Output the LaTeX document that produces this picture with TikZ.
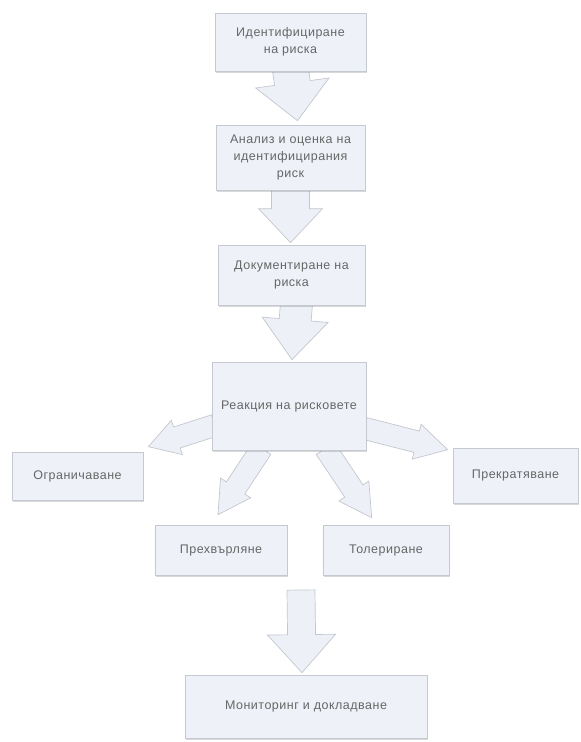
\documentclass[tikz,border=0pt]{standalone}
\usepackage{fontspec}
\setmainfont{Liberation Sans}[LetterSpace=4]
\usetikzlibrary{calc,shadows}
\definecolor{boxfill}{HTML}{EEF2F8}
\definecolor{boxline}{HTML}{C4C9D2}
\definecolor{arrfill}{HTML}{EDF0F6}
\definecolor{arrline}{HTML}{C3C7CF}
\definecolor{txt}{HTML}{666666}
\pgfdeclarelayer{background}
\pgfsetlayers{background,main}
\tikzset{
  box/.style={draw=boxline, fill=boxfill, line width=0.7pt,
    drop shadow={shadow xshift=1pt, shadow yshift=-2pt, opacity=.22, fill=black!70},
    text=txt, font=\fontsize{12.5}{17}\selectfont, align=center, inner sep=0pt},
  barrow/.style={draw=arrline, fill=arrfill, line width=0.7pt, line join=miter}
}
% #1 from, #2 to, #3 shaft half width, #4 head half width, #5 head length
\newcommand\blockarr[5]{%
  \coordinate (hb) at ($(#2)!#5!(#1)$);
  \path[barrow] ($(#1)!#3!90:(#2)$) -- ($(hb)!#3!90:(#2)$) -- ($(hb)!#4!90:(#2)$)
     -- (#2) -- ($(hb)!#4!-90:(#2)$) -- ($(hb)!#3!-90:(#2)$) -- ($(#1)!#3!-90:(#2)$) -- cycle;
}
\begin{document}
\begin{tikzpicture}[x=1pt,y=-1pt]
\useasboundingbox (0,0) rectangle (581,742);
\node[box, minimum width=151pt, minimum height=58pt] (n1) at (290.5,42) {Идентифициране\\на риска};
\node[box, minimum width=149pt, minimum height=65pt] (n2) at (290.5,157.5) {Анализ и оценка на\\идентифицирания\\риск};
\node[box, minimum width=147pt, minimum height=60pt] (n3) at (291.5,275) {Документиране на\\риска};
\node[box, minimum width=154pt, minimum height=88pt] (n4) at (289,406) {Реакция на рисковете};
\node[box, minimum width=131pt, minimum height=48pt] (n5) at (77.5,476) {Ограничаване};
\node[box, minimum width=125pt, minimum height=55pt] (n6) at (515.5,475.5) {Прекратяване};
\node[box, minimum width=132pt, minimum height=50pt] (n7) at (221,550) {Прехвърляне};
\node[box, minimum width=126pt, minimum height=50pt] (n8) at (386,550) {Толериране};
\node[box, minimum width=242pt, minimum height=63pt] (n9) at (306,706.5) {Мониторинг и докладване};
\coordinate (m0) at (301,590);
\begin{pgfonlayer}{background}
  \coordinate (s1) at ($(n1.south)+(0,-2)$);
  \coordinate (t1) at ($(n2.north)+(7,-4)$);
  \blockarr{s1}{t1}{18pt}{37pt}{38pt}
  \coordinate (s2) at ($(n2.south)+(0,-2)$);
  \coordinate (t2) at ($(n3.north)+(-1,-2)$);
  \blockarr{s2}{t2}{19pt}{32pt}{34pt}
  \coordinate (s3) at ($(n3.south)+(5,-2)$);
  \coordinate (t3) at ($(n4.north)+(3,-2)$);
  \blockarr{s3}{t3}{16pt}{33pt}{40pt}
  \coordinate (s4) at ($(n4.south west)+(3,-25)$);
  \coordinate (t4) at ($(n5.north east)+(5,-5)$);
  \blockarr{s4}{t4}{11pt}{18pt}{30pt}
  \coordinate (s5) at ($(n4.south east)+(-2,-22)$);
  \coordinate (t5) at ($(n6.north west)+(-5,2)$);
  \blockarr{s5}{t5}{11pt}{18pt}{32pt}
  \coordinate (s6) at ($(n4.south west)+(50,-2)$);
  \coordinate (t6) at ($(n7.north)+(-3,-10)$);
  \blockarr{s6}{t6}{11pt}{18pt}{32pt}
  \coordinate (s7) at ($(n4.south east)+(-41,-2)$);
  \coordinate (t7) at ($(n8.north west)+(49,-7)$);
  \blockarr{s7}{t7}{11pt}{18pt}{32pt}
  \coordinate (t8) at ($(n9.north)+(-4,-2)$);
  \blockarr{m0}{t8}{14pt}{34pt}{38pt}
\end{pgfonlayer}
\end{tikzpicture}
\end{document}
